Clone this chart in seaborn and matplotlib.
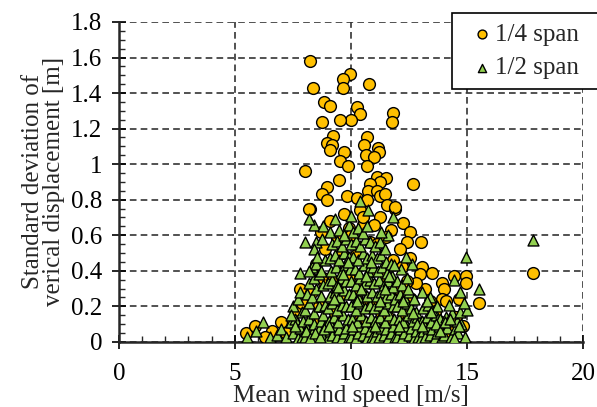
import numpy as np
import pandas as pd
import matplotlib
matplotlib.use('Agg')
import matplotlib.pyplot as plt
from matplotlib.ticker import MultipleLocator, FuncFormatter
import seaborn as sns

# 1/4 span (circles)
quarter_x = [8.23, 9.96, 9.66, 9.66, 8.36, 10.78, 8.84, 9.09, 10.26, 10.39, 10.0, 9.53, 8.75, 11.81, 11.77,
             9.22, 10.69, 8.97, 9.18, 10.56, 11.16, 11.21, 9.70, 9.09, 10.65, 10.99, 9.53, 9.87, 10.69, 8.02,
             9.48, 11.12, 11.51, 12.67, 11.25, 10.82, 8.97, 10.73, 11.12, 8.75, 8.97, 9.83, 10.26, 10.69, 11.25,
             11.47, 11.55, 11.90, 8.23, 10.39, 11.25, 12.24, 12.54, 12.41, 12.54, 13.02, 13.06, 12.97, 13.5,
             13.19, 12.11, 11.9, 13.92, 14.0, 13.92, 14.1, 14.44, 14.66, 14.96, 14.96, 15.52, 17.84,
             5.47, 5.86, 6.59, 6.98, 6.3, 7.2, 7.5, 7.7, 7.8, 7.6, 7.9, 8.84, 8.19,
             8.1, 8.4, 8.6, 8.3, 8.8, 8.5, 8.9, 9.0, 9.3, 9.5, 9.2, 9.8, 9.6, 9.4, 9.9,
             10.1, 10.4, 10.6, 10.3, 10.9, 10.2, 10.8, 10.5, 11.0, 11.3, 11.6, 11.4, 11.8, 11.1, 11.7,
             12.0, 12.3, 12.6, 12.8, 12.2, 12.9, 13.3, 13.6, 13.8, 13.4, 14.2, 14.5, 14.8,
             9.1, 9.7, 10.0, 10.5, 11.0, 11.5, 12.1, 9.4, 10.2, 10.9, 11.6, 9.9, 8.7, 12.4]
quarter_y = [1.58, 1.51, 1.48, 1.43, 1.43, 1.45, 1.35, 1.33, 1.32, 1.28, 1.25, 1.25, 1.24, 1.29, 1.24,
             1.16, 1.15, 1.12, 1.11, 1.11, 1.09, 1.07, 1.07, 1.08, 1.05, 1.04, 1.02, 0.99, 0.99, 0.96,
             0.91, 0.93, 0.92, 0.89, 0.90, 0.89, 0.87, 0.85, 0.85, 0.83, 0.80, 0.82, 0.81, 0.80, 0.82,
             0.83, 0.77, 0.75, 0.75, 0.74, 0.70, 0.67, 0.62, 0.56, 0.47, 0.56, 0.42, 0.38, 0.39,
             0.30, 0.29, 0.76, 0.33, 0.30, 0.24, 0.23, 0.37, 0.24, 0.37, 0.33, 0.22, 0.39,
             0.05, 0.09, 0.06, 0.11, 0.03, 0.05, 0.12, 0.08, 0.30, 0.18, 0.22, 0.33, 0.75,
             0.05, 0.12, 0.20, 0.28, 0.36, 0.44, 0.52, 0.08, 0.16, 0.25, 0.34, 0.42, 0.50, 0.58, 0.64,
             0.04, 0.13, 0.22, 0.31, 0.40, 0.49, 0.56, 0.66, 0.07, 0.17, 0.27, 0.37, 0.46, 0.55, 0.63,
             0.06, 0.15, 0.24, 0.33, 0.42, 0.10, 0.07, 0.16, 0.12, 0.23, 0.06, 0.14, 0.09,
             0.68, 0.72, 0.60, 0.70, 0.66, 0.59, 0.52, 0.30, 0.26, 0.20, 0.14, 0.36, 0.62, 0.34]

# 1/2 span (triangles)
half_x = [5.5, 5.9, 6.2, 6.5, 6.8, 7.0, 7.2, 7.4,
          7.5, 7.6, 7.7, 7.8, 7.9, 7.5, 7.7, 7.9, 7.6, 7.8, 7.95, 7.4, 7.8,
          8.0, 8.1, 8.2, 8.3, 8.4, 8.5, 8.6, 8.7, 8.8, 8.9, 8.0, 8.2, 8.4, 8.6, 8.8, 8.1, 8.3, 8.5, 8.7,
          8.9, 8.2, 8.4, 8.6, 8.8, 8.3, 8.5, 8.7, 8.9, 8.2, 8.0, 8.5, 8.4, 8.8, 8.2, 8.4, 8.75, 8.55,
          9.0, 9.1, 9.2, 9.3, 9.4, 9.5, 9.6, 9.7, 9.8, 9.9, 9.05, 9.25, 9.45, 9.65, 9.85,
          9.0, 9.2, 9.4, 9.6, 9.8, 9.1, 9.3, 9.5, 9.7, 9.9, 9.0, 9.2, 9.4, 9.6, 9.8,
          9.15, 9.35, 9.55, 9.75, 9.95, 9.1, 9.3, 9.5, 9.7, 9.9, 9.2, 9.4, 9.6, 9.8, 9.1, 9.5, 9.9, 9.3, 9.7,
          10.0, 10.1, 10.2, 10.3, 10.4, 10.5, 10.6, 10.7, 10.8, 10.9, 10.05, 10.25, 10.45, 10.65, 10.85,
          10.0, 10.2, 10.4, 10.6, 10.8, 10.1, 10.3, 10.5, 10.7, 10.9, 10.0, 10.2, 10.4, 10.6, 10.8,
          10.15, 10.35, 10.55, 10.75, 10.95, 10.1, 10.3, 10.5, 10.7, 10.9, 10.0, 10.2, 10.4, 10.6, 10.8,
          10.1, 10.3, 10.5, 10.7, 10.4, 10.75, 10.0,
          11.0, 11.1, 11.2, 11.3, 11.4, 11.5, 11.6, 11.7, 11.8, 11.9, 11.05, 11.25, 11.45, 11.65, 11.85,
          11.0, 11.2, 11.4, 11.6, 11.8, 11.1, 11.3, 11.5, 11.7, 11.9, 11.0, 11.2, 11.4, 11.6, 11.8,
          11.15, 11.35, 11.55, 11.75, 11.1, 11.3, 11.5, 11.7, 11.05, 11.25, 11.45, 11.8, 11.6, 11.3,
          12.0, 12.1, 12.2, 12.3, 12.4, 12.5, 12.6, 12.7, 12.8, 12.9, 12.05, 12.25, 12.45, 12.65, 12.85,
          12.0, 12.2, 12.4, 12.6, 12.8, 12.1, 12.3, 12.5, 12.7, 12.0, 12.2, 12.4, 12.63, 12.15, 12.35,
          13.0, 13.1, 13.2, 13.3, 13.4, 13.5, 13.6, 13.7, 13.8, 13.9, 13.05, 13.25, 13.45, 13.65, 13.85,
          13.1, 13.3, 13.5, 13.7, 13.06, 13.4,
          14.0, 14.15, 14.3, 14.48, 14.6, 14.75, 14.9, 14.57, 14.1, 14.35, 14.7, 14.2, 14.44, 14.7,
          14.96, 15.0, 15.52, 14.85, 17.84,
          8.05, 8.25, 8.45, 8.65, 8.85, 9.05, 9.25, 9.45, 9.65, 9.85, 10.05, 10.25, 10.45, 10.65, 10.85,
          11.05, 11.25, 11.45, 11.65, 11.85, 12.05, 12.25, 12.45, 12.65, 12.85, 13.05, 13.25, 13.45, 13.65,
          13.85, 14.05, 14.25, 14.45, 14.65]
half_y = [0.03, 0.06, 0.11, 0.03, 0.04, 0.07, 0.03, 0.11,
          0.05, 0.13, 0.02, 0.08, 0.17, 0.20, 0.24, 0.03, 0.09, 0.39, 0.12, 0.15, 0.28,
          0.03, 0.08, 0.13, 0.05, 0.10, 0.02, 0.07, 0.12, 0.04, 0.09, 0.18, 0.22, 0.16, 0.20, 0.15, 0.27, 0.25, 0.30, 0.26,
          0.21, 0.33, 0.36, 0.38, 0.32, 0.42, 0.44, 0.40, 0.46, 0.40, 0.56, 0.56, 0.66, 0.65, 0.69, 0.52, 0.58, 0.48,
          0.02, 0.06, 0.04, 0.09, 0.03, 0.07, 0.02, 0.05, 0.08, 0.03, 0.12, 0.14, 0.11, 0.15, 0.13,
          0.19, 0.22, 0.18, 0.21, 0.20, 0.26, 0.28, 0.25, 0.29, 0.27, 0.33, 0.35, 0.32, 0.36, 0.34,
          0.40, 0.42, 0.39, 0.43, 0.41, 0.47, 0.49, 0.46, 0.50, 0.48, 0.55, 0.57, 0.54, 0.58, 0.62, 0.63, 0.66, 0.69, 0.60,
          0.03, 0.07, 0.02, 0.05, 0.09, 0.04, 0.08, 0.02, 0.06, 0.03, 0.13, 0.11, 0.15, 0.12, 0.14,
          0.20, 0.18, 0.22, 0.19, 0.21, 0.27, 0.25, 0.29, 0.26, 0.28, 0.34, 0.32, 0.36, 0.33, 0.35,
          0.41, 0.39, 0.43, 0.40, 0.42, 0.48, 0.46, 0.50, 0.47, 0.49, 0.55, 0.57, 0.54, 0.58, 0.56,
          0.62, 0.64, 0.61, 0.65, 0.79, 0.74, 0.71,
          0.02, 0.06, 0.03, 0.08, 0.04, 0.07, 0.02, 0.05, 0.09, 0.03, 0.12, 0.14, 0.11, 0.15, 0.13,
          0.19, 0.21, 0.18, 0.22, 0.20, 0.26, 0.28, 0.25, 0.27, 0.24, 0.33, 0.35, 0.32, 0.34, 0.31,
          0.40, 0.42, 0.39, 0.37, 0.47, 0.49, 0.45, 0.44, 0.54, 0.56, 0.52, 0.70, 0.60, 0.62,
          0.03, 0.07, 0.02, 0.05, 0.09, 0.04, 0.08, 0.02, 0.06, 0.03, 0.13, 0.11, 0.15, 0.12, 0.14,
          0.20, 0.18, 0.22, 0.19, 0.17, 0.27, 0.25, 0.28, 0.24, 0.34, 0.32, 0.36, 0.44, 0.41, 0.48,
          0.02, 0.06, 0.03, 0.08, 0.04, 0.07, 0.02, 0.05, 0.09, 0.03, 0.12, 0.14, 0.11, 0.15, 0.13,
          0.19, 0.21, 0.18, 0.20, 0.28, 0.25,
          0.04, 0.08, 0.03, 0.07, 0.05, 0.10, 0.03, 0.12, 0.14, 0.16, 0.17, 0.21, 0.35, 0.28,
          0.48, 0.18, 0.30, 0.22, 0.574,
          0.06, 0.02, 0.05, 0.03, 0.07, 0.09, 0.24, 0.31, 0.38, 0.45, 0.09, 0.23, 0.30, 0.37, 0.45,
          0.09, 0.23, 0.30, 0.37, 0.43, 0.09, 0.23, 0.30, 0.16, 0.10, 0.09, 0.23, 0.17, 0.10,
          0.06, 0.11, 0.13, 0.02, 0.09]

df_q = pd.DataFrame({'x': quarter_x, 'y': quarter_y})
df_h = pd.DataFrame({'x': half_x, 'y': half_y})

sns.set_style('ticks')
plt.rcParams['font.family'] = ['Liberation Serif', 'DejaVu Serif']

fig = plt.figure(figsize=(5.97, 4.07), dpi=100)
ax = fig.add_axes([0.199, 0.160, 0.778, 0.786])

sns.scatterplot(data=df_q, x='x', y='y', ax=ax, marker='o', s=72, color='#FFC000',
                edgecolor='black', linewidth=1.0, label='1/4 span', zorder=3)
sns.scatterplot(data=df_h, x='x', y='y', ax=ax, marker='^', s=62, color='#92D050',
                edgecolor='black', linewidth=1.0, label='1/2 span', zorder=4)

ax.set_xlim(0, 20)
ax.set_ylim(0, 1.8)
ax.xaxis.set_major_locator(MultipleLocator(5))
ax.xaxis.set_minor_locator(MultipleLocator(1))
ax.yaxis.set_major_locator(MultipleLocator(0.2))
ax.yaxis.set_minor_locator(MultipleLocator(0.05))
ax.yaxis.set_major_formatter(FuncFormatter(lambda v, p: '%g' % round(v, 2)))

ax.grid(True, which='major', color='#333333', linestyle=(0, (4, 2.5)), linewidth=1.2, zorder=0)
ax.set_axisbelow(True)
sns.despine(ax=ax, top=True, right=True)
ax.spines['left'].set_linewidth(1.8)
ax.spines['bottom'].set_linewidth(1.8)

ax.tick_params(which='major', direction='inout', length=10, width=1.2, labelsize=18, colors='black')
ax.tick_params(which='minor', direction='in', length=4, width=1.0)
ax.tick_params(axis='x', which='major', pad=10)
ax.tick_params(axis='y', which='major', pad=7)

ax.set_xlabel('Mean wind speed [m/s]', fontsize=18, labelpad=0)
ax.set_ylabel('Standard deviation of\nverical displacement [m]', fontsize=18, labelpad=4, linespacing=0.95)

ax.get_legend().remove()
h, l = ax.get_legend_handles_labels()
leg = fig.legend(h, l, loc='upper left', bbox_to_anchor=(0.757, 0.5, 0.26, 0.468), mode='expand',
                 fontsize=18, frameon=True, fancybox=False, edgecolor='black', framealpha=1,
                 markerscale=0.75, handlelength=1.6, handletextpad=-0.28, borderpad=0.4,
                 labelspacing=0.45, borderaxespad=0)
leg.get_frame().set_linewidth(1.2)

fig.savefig('out.png', dpi=100)
